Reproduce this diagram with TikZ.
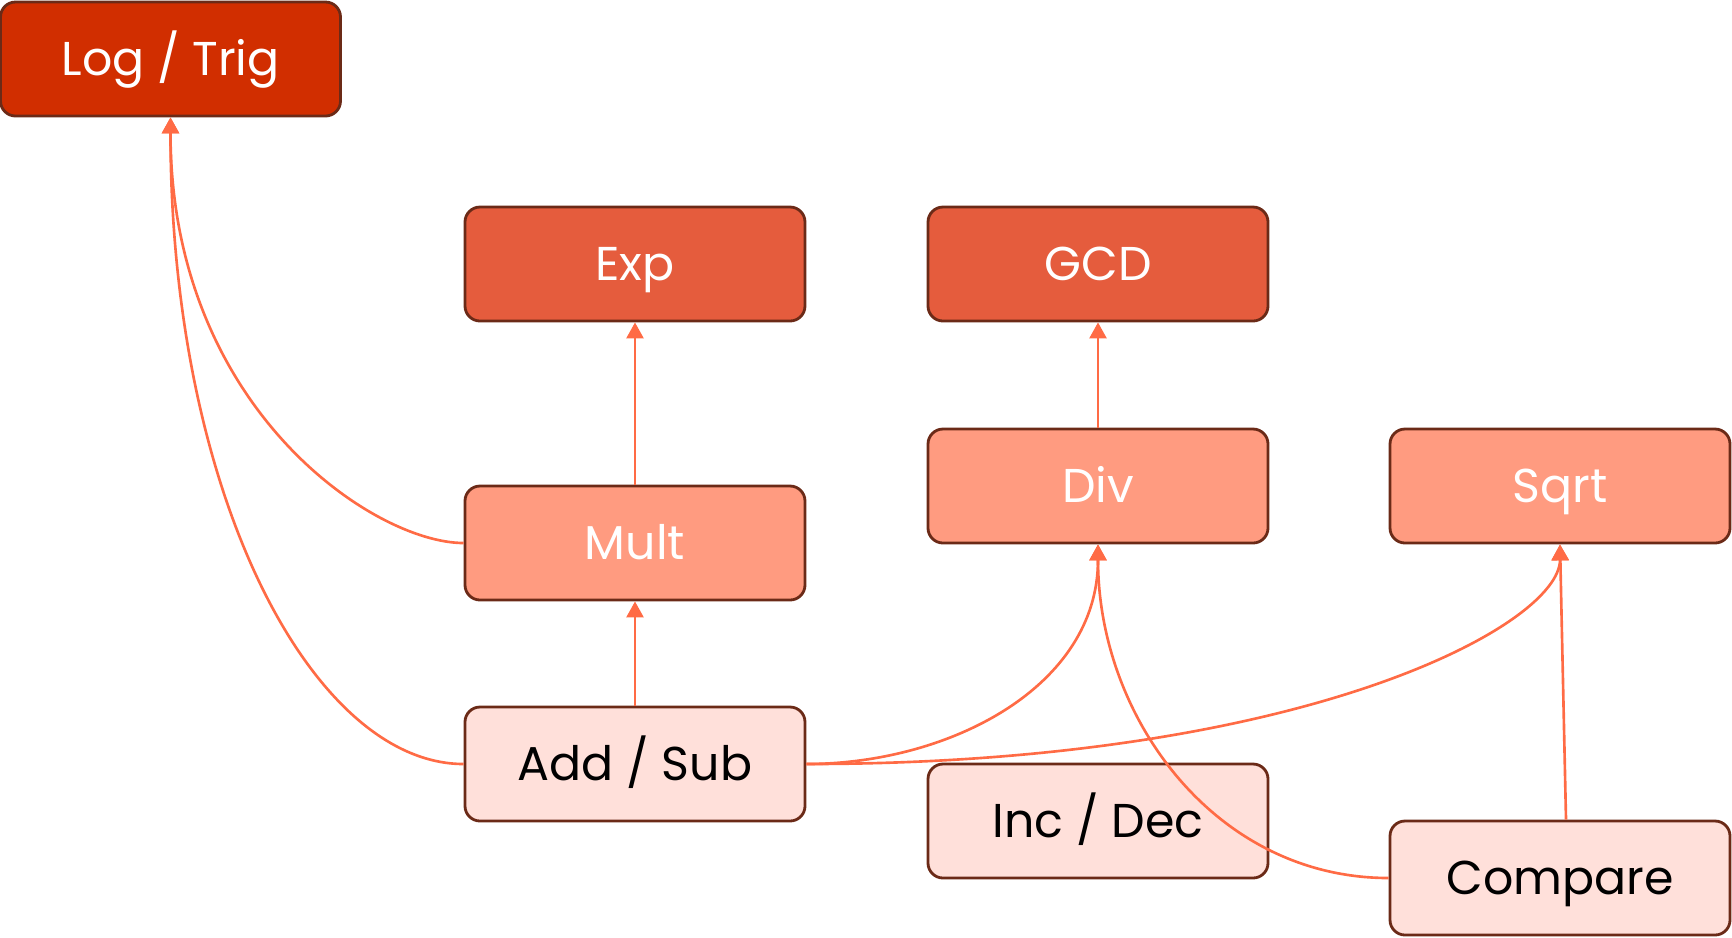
\documentclass[tikz,border=0pt]{standalone}
\usepackage{fontspec}
\setmainfont{Poppins}
\usetikzlibrary{arrows.meta}

\definecolor{tiertop}{HTML}{D12E00}
\definecolor{tierhigh}{HTML}{E55C3D}
\definecolor{tiermid}{HTML}{FF9B80}
\definecolor{tierlow}{HTML}{FFE0DA}
\definecolor{boxline}{HTML}{6B2A17}
\definecolor{linkline}{HTML}{FF6B45}

\begin{document}
\begin{tikzpicture}[>/.tip={Triangle[length=0.16cm,width=0.17cm]},
	op/.style={draw=boxline,line width=0.8pt,rounded corners=0.15cm,minimum width=3.4cm,minimum height=1.14cm,text height=0.33cm,text depth=0pt,font=\fontsize{13.5}{16}\selectfont},
	hardop/.style={op,fill=tiertop,text=white},
	highop/.style={op,fill=tierhigh,text=white},
	midop/.style={op,fill=tiermid,text=white},
	baseop/.style={op,fill=tierlow,text=black},
	link/.style={->,color=linkline,line width=0.75pt}]
	\useasboundingbox (0,0) rectangle (17.32,-9.37);
	\draw (1.705,-0.59) node (logtrig) [hardop] {Log / Trig};
	\draw (6.35,-2.64) node (exp) [highop] {Exp};
	\draw (10.98,-2.64) node (gcd) [highop] {GCD};
	\draw (6.35,-5.43) node (mult) [midop] {Mult};
	\draw (10.98,-4.86) node (div) [midop] {Div};
	\draw (15.60,-4.86) node (sqrt) [midop] {Sqrt};
	\draw (6.35,-7.64) node (addsub) [baseop] {Add / Sub};
	\draw (10.98,-8.21) node (incdec) [baseop] {Inc / Dec};
	\draw (15.60,-8.78) node (compare) [baseop] {Compare};

	\draw[link] (mult) -- (exp);
	\draw[link] (addsub) -- (mult);
	\draw[link] (div) -- (gcd);
	\draw[link] (mult.west) .. controls +(-0.9,0) and +(0,-2.9) .. (logtrig.south);
	\draw[link] (addsub.west) .. controls +(-1.5,0) and +(0,-3.8) .. (logtrig.south);
	\draw[link] (addsub.east) to [out=0,in=-90] (div.south);
	\draw[link] (addsub.east) .. controls +(5,0) and +(0,-0.8) .. (sqrt.south);
	\draw[link] (compare.west) to [out=180,in=-90] (div.south);
	\draw[link] ([xshift=0.06cm]compare.north) -- (sqrt.south);
\end{tikzpicture}
\end{document}
